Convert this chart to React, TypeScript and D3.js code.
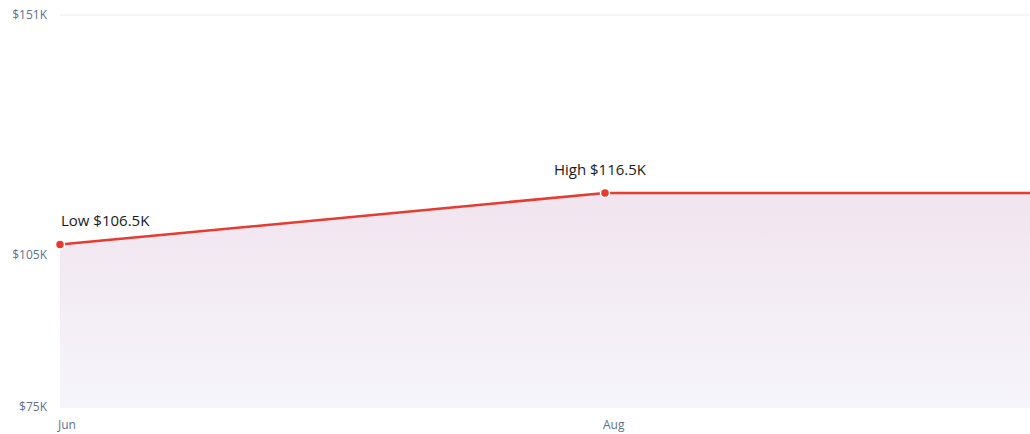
import React, { useEffect, useRef } from "react";
import * as d3 from "d3";

const monthNums = [6, 8, 10];
const monthLabels = ["Jun", "Aug", "Oct"];
const values = [106.5, 116.5, 116.5];
const yTicks = [75, 105, 151];
const xTickMonths = [6, 8];
const xTickLabels = ["Jun", "Aug"];

const W = 1030;
const H = 434;

export default function App() {
  const ref = useRef<SVGSVGElement>(null);
  useEffect(() => {
    document.body.style.margin = "0";
    const svg = d3.select(ref.current);
    svg.selectAll("*").remove();
    const x = d3.scaleLinear().domain([6, 10]).range([60, 1150]);
    const y = d3.scaleLinear().domain([75, 151]).range([407, 15]);
    const data = monthNums.map((m, i) => ({ m, v: values[i], label: monthLabels[i] }));

    const defs = svg.append("defs");
    const g = defs.append("linearGradient").attr("id", "fillg").attr("x1", 0).attr("y1", 0).attr("x2", 0).attr("y2", 1);
    g.append("stop").attr("offset", "0%").attr("stop-color", "#f1e4ee");
    g.append("stop").attr("offset", "100%").attr("stop-color", "#f6f5fb");

    // gridlines
    svg.append("g").selectAll("line").data([75, 151]).join("line")
      .attr("x1", 60).attr("x2", W).attr("y1", d => y(d)).attr("y2", d => y(d))
      .attr("stroke", "#e8ecf3").attr("stroke-width", 1);

    const area = d3.area<any>().x(d => x(d.m)).y0(y(75)).y1(d => y(d.v));
    svg.append("path").datum(data).attr("d", area).attr("fill", "url(#fillg)");

    const line = d3.line<any>().x(d => x(d.m)).y(d => y(d.v));
    svg.append("path").datum(data).attr("d", line).attr("fill", "none")
      .attr("stroke", "#e53b30").attr("stroke-width", 2.5);

    // y labels
    svg.append("g").selectAll("text").data(yTicks).join("text")
      .attr("x", 47).attr("y", d => y(d) + (d === 105 ? 3 : 0)).attr("dy", "0.35em")
      .attr("text-anchor", "end").attr("font-family", "Open Sans, sans-serif")
      .attr("font-size", 12).attr("fill", "#5f6f8c").text(d => "$" + d + "K");

    // x labels
    svg.append("g").selectAll("text").data(xTickMonths).join("text")
      .attr("x", d => x(d) - 2).attr("y", 429)
      .attr("font-family", "Open Sans, sans-serif")
      .attr("font-size", 12).attr("fill", "#5f6f8c").text((d, i) => xTickLabels[i]);

    // markers
    const low = data[0];
    const high = data[1];
    [low, high].forEach(p => {
      svg.append("circle").attr("cx", x(p.m)).attr("cy", y(p.v)).attr("r", 4.5)
        .attr("fill", "#e53b30").attr("stroke", "#fff").attr("stroke-width", 1.5);
    });
    svg.append("text").attr("x", x(low.m) + 1).attr("y", y(low.v) - 19)
      .attr("font-family", "Open Sans, sans-serif").attr("font-size", 15).attr("fill", "#1a1a1a")
      .text("Low $" + low.v + "K");
    svg.append("text").attr("x", x(high.m) - 5).attr("y", y(high.v) - 18)
      .attr("text-anchor", "middle")
      .attr("font-family", "Open Sans, sans-serif").attr("font-size", 15).attr("fill", "#1a1a1a")
      .text("High $" + high.v + "K");
  }, []);
  return <svg ref={ref} width={W} height={H} style={{ display: "block", background: "#fff" }} />;
}
